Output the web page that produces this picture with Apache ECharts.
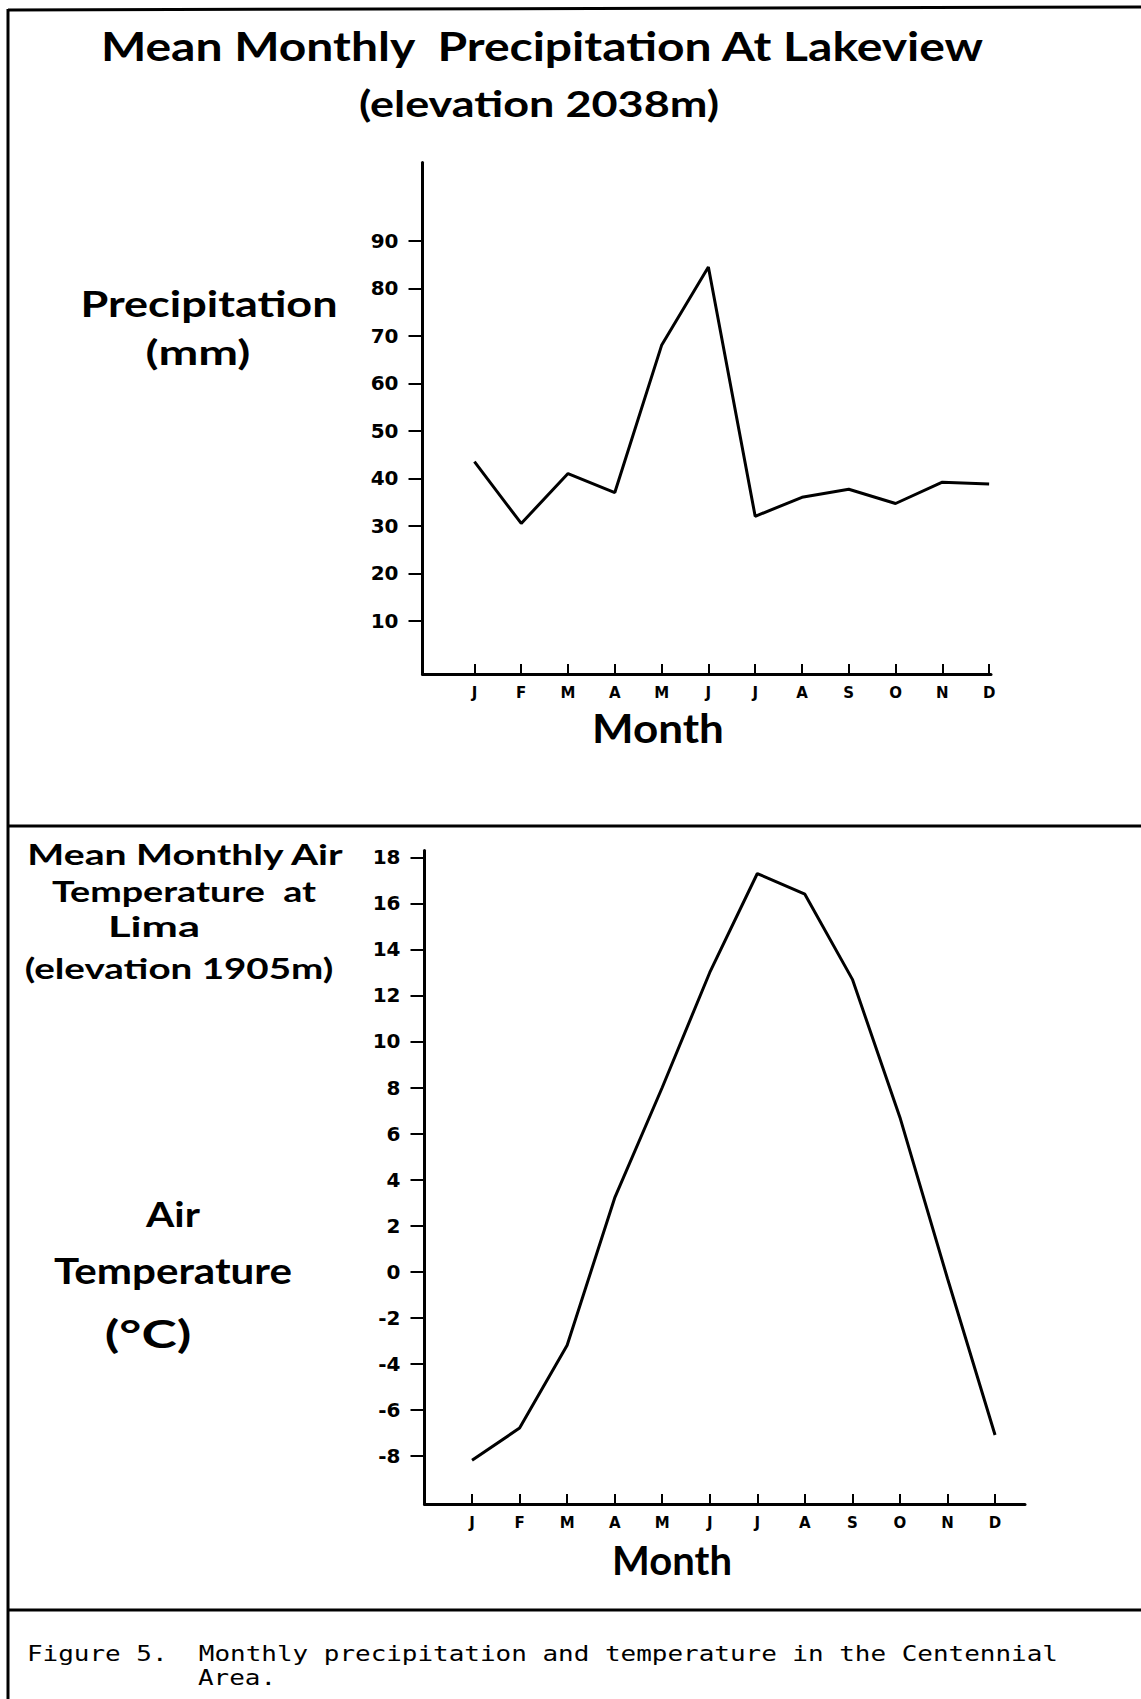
<!DOCTYPE html>
<html>
<head>
<meta charset="utf-8">
<title>Figure 5</title>
<script src="https://cdn.jsdelivr.net/npm/echarts@6/dist/echarts.min.js"></script>
<style>
  html, body { margin: 0; padding: 0; background: #fff; }
  #chart { width: 1141px; height: 1699px; }
</style>
</head>
<body>
<div id="chart"></div>
<script>
// month letters and positions along the x axis (1 = Jan)
const months = ['J', 'F', 'M', 'A', 'M', 'J', 'J', 'A', 'S', 'O', 'N', 'D'];
const monthPos = [1, 2, 3, 4, 5, 6, 7, 8, 9, 10, 11, 12];

// Lakeview mean monthly precipitation (mm)
const precipitation = [43.5, 30.5, 41, 37, 68, 84.5, 32, 36, 37.7, 34.7, 39.2, 38.8];
const precipTicks = [10, 20, 30, 40, 50, 60, 70, 80, 90];

// Lima mean monthly air temperature (deg C)
const temperature = [-8.2, -6.8, -3.2, 3.2, 8, 13, 17.3, 16.4, 12.7, 6.7, -0.3, -7.1];
const tempTicks = [-8, -6, -4, -2, 0, 2, 4, 6, 8, 10, 12, 14, 16, 18];

const hand = '"Lato", "Noto Sans", sans-serif';
const digits = '"DejaVu Sans", sans-serif';
const mono = '"DejaVu Sans Mono", monospace';

const chart = echarts.init(document.getElementById('chart'), null, { renderer: 'svg' });

function xAxisFor(gridIndex, min, max) {
  return {
    type: 'value',
    gridIndex: gridIndex,
    min: min,
    max: max,
    splitLine: { show: false },
    axisLine: { onZero: false, lineStyle: { color: '#000', width: 3 } },
    axisTick: {
      customValues: monthPos,
      inside: true,
      length: 10,
      lineStyle: { color: '#000', width: 2 }
    },
    axisLabel: {
      customValues: monthPos,
      formatter: v => months[v - 1],
      color: '#000',
      fontFamily: digits,
      fontWeight: 'bold',
      fontSize: 15,
      margin: 11
    }
  };
}

function yAxisFor(gridIndex, min, max, ticks) {
  return {
    type: 'value',
    gridIndex: gridIndex,
    min: min,
    max: max,
    splitLine: { show: false },
    axisLine: { onZero: false, lineStyle: { color: '#000', width: 3 } },
    axisTick: {
      customValues: ticks,
      length: 14,
      lineStyle: { color: '#000', width: 2 }
    },
    axisLabel: {
      customValues: ticks,
      color: '#000',
      fontFamily: digits,
      fontWeight: 'bold',
      fontSize: 20,
      margin: 24
    }
  };
}

// hand-lettered labels are wide, so stretch them sideways
function txt(text, x, y, size, sx) {
  return {
    type: 'text',
    x: x,
    y: y,
    scaleX: sx || 1,
    style: {
      text: text,
      fill: '#000',
      font: 'bold ' + size + 'px ' + hand,
      align: 'center',
      verticalAlign: 'middle'
    }
  };
}

function ln(x1, y1, x2, y2, w) {
  return {
    type: 'line',
    shape: { x1: x1, y1: y1, x2: x2, y2: y2 },
    style: { stroke: '#000', lineWidth: w || 3 }
  };
}

function caption(text, x, y) {
  return {
    type: 'text',
    x: x,
    y: y,
    scaleX: 1.18,
    style: {
      text: text,
      fill: '#000',
      font: '22px ' + mono,
      verticalAlign: 'middle'
    }
  };
}

chart.setOption({
  animation: false,
  backgroundColor: '#fff',
  grid: [
    { left: 422.5, top: 162.5, width: 568.5, height: 511.5 },
    { left: 424.5, top: 850.5, width: 600.5, height: 653.5 }
  ],
  xAxis: [xAxisFor(0, -0.11, 12.04), xAxisFor(1, 0, 12.63)],
  yAxis: [yAxisFor(0, -1.2, 106.5, precipTicks), yAxisFor(1, -10.1, 18.3, tempTicks)],
  series: [
    {
      type: 'line',
      xAxisIndex: 0,
      yAxisIndex: 0,
      data: monthPos.map((m, i) => [m, precipitation[i]]),
      symbol: 'none',
      lineStyle: { color: '#000', width: 3 }
    },
    {
      type: 'line',
      xAxisIndex: 1,
      yAxisIndex: 1,
      data: monthPos.map((m, i) => [m, temperature[i]]),
      symbol: 'none',
      lineStyle: { color: '#000', width: 3 }
    }
  ],
  graphic: [
    // frame
    ln(8, 10, 1141, 7),
    ln(8, 9, 8, 1699),
    ln(8, 826, 1141, 826),
    ln(8, 1610, 1141, 1610),
    // top panel text
    txt('Mean Monthly  Precipitation At Lakeview', 542, 45, 40, 1.2),
    txt('(elevation 2038m)', 539, 103, 36, 1.25),
    txt('Precipitation', 209, 303, 36, 1.25),
    txt('(mm)', 198, 352, 34, 1.4),
    txt('Month', 658, 728, 40, 1.1),
    // bottom panel text
    txt('Mean Monthly Air', 185, 854, 29, 1.35),
    txt('Temperature  at', 184, 891, 29, 1.3),
    txt('Lima', 154, 926, 29, 1.5),
    txt('(elevation 1905m)', 179, 968, 29, 1.33),
    txt('Air', 173, 1214, 34, 1.2),
    txt('Temperature', 173, 1270, 36, 1.17),
    txt('(\u00b0C)', 148, 1333, 38, 1.4),
    txt('Month', 672, 1560, 40, 1.0),
    // caption
    caption('Figure 5.  Monthly precipitation and temperature in the Centennial', 27, 1654),
    caption('Area.', 198, 1678)
  ]
});
</script>
</body>
</html>
